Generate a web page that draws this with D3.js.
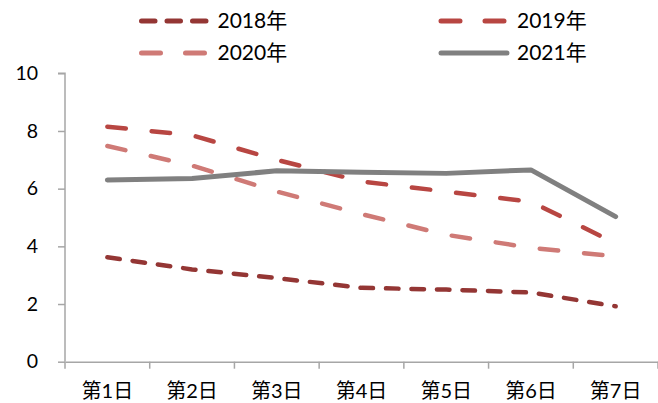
<!DOCTYPE html>
<html>
<head>
<meta charset="utf-8">
<script src="https://cdn.jsdelivr.net/npm/d3@7"></script>
<style>
  body { margin: 0; background: #fff; }
  text { font-family: "Lato", "Noto Sans CJK SC", sans-serif; fill: #000; }
</style>
</head>
<body>
<script>
// chart data
var days = ["第1日", "第2日", "第3日", "第4日", "第5日", "第6日", "第7日"];
var y2018 = [3.62, 3.2, 2.9, 2.56, 2.5, 2.4, 1.92];
var y2019 = [8.15, 7.85, 7.0, 6.25, 5.9, 5.55, 4.1];
var y2020 = [7.48, 6.8, 5.9, 5.12, 4.4, 3.95, 3.65];
var y2021 = [6.3, 6.35, 6.62, 6.57, 6.53, 6.65, 5.03];
var yTicks = [0, 2, 4, 6, 8, 10];

var svgWidth = 658;
var svgHeight = 403;
var margin = { top: 73.3, right: 0, bottom: 41.3, left: 65 };
var width = svgWidth - margin.left - margin.right;
var height = svgHeight - margin.top - margin.bottom;

var svg = d3.select("body").append("svg")
  .attr("width", svgWidth)
  .attr("height", svgHeight);

var chartGroup = svg.append("g")
  .attr("transform", `translate(${margin.left}, ${margin.top})`);

var xBand = d3.scaleBand().domain(days).range([0, width]);
var yLinearScale = d3.scaleLinear().domain([0, 10]).range([height, 0]);

// axes
var axisColor = "#a6a6a6";
var xAxis = chartGroup.append("g")
  .attr("transform", `translate(0, ${height})`)
  .call(d3.axisBottom(xBand).tickSize(0).tickPadding(22));
xAxis.select(".domain").attr("stroke", axisColor).attr("stroke-width", 1.5);
xAxis.selectAll("text").attr("font-size", "20px");
// boundary ticks between categories
xAxis.selectAll(".bound")
  .data(d3.range(days.length + 1))
  .enter()
  .append("line")
  .attr("x1", i => i * xBand.step())
  .attr("x2", i => i * xBand.step())
  .attr("y1", 0)
  .attr("y2", 7)
  .attr("stroke", axisColor)
  .attr("stroke-width", 1.5);

var yAxis = chartGroup.append("g")
  .call(d3.axisLeft(yLinearScale).tickValues(yTicks).tickSize(7).tickPadding(20));
yAxis.select(".domain").attr("stroke", axisColor).attr("stroke-width", 1.5)
  .attr("d", `M-7,0H0V${height}`);
yAxis.selectAll(".tick line").attr("stroke", axisColor).attr("stroke-width", 1.5);
yAxis.selectAll("text").attr("font-size", "19.5px");

// series
var series = [
  { name: "2018年", values: y2018, color: "#943634", dash: "12.5,13", legendDash: "13.5,12", w: 4.5 },
  { name: "2019年", values: y2019, color: "#b84642", dash: "18.5,26", legendDash: "19,25", w: 4.5 },
  { name: "2020年", values: y2020, color: "#cf7a76", dash: "18.5,26", legendDash: "19,25", w: 4.5 },
  { name: "2021年", values: y2021, color: "#808080", dash: null, legendDash: null, w: 5 }
];

var line = d3.line()
  .x((d, i) => xBand(days[i]) + xBand.bandwidth() / 2)
  .y(d => yLinearScale(d));

series.forEach(function(s) {
  chartGroup.append("path")
    .datum(s.values)
    .attr("d", line)
    .attr("fill", "none")
    .attr("stroke", s.color)
    .attr("stroke-width", s.w)
    .attr("stroke-linecap", "round")
    .attr("stroke-linejoin", "round")
    .attr("stroke-dasharray", s.dash);
});

// legend
var legendPos = [
  { x: 141.5, y: 21 },
  { x: 441, y: 21 },
  { x: 141.5, y: 53 },
  { x: 441, y: 53 }
];
series.forEach(function(s, i) {
  var p = legendPos[i];
  var g = svg.append("g").attr("transform", `translate(${p.x}, ${p.y})`);
  g.append("line")
    .attr("x1", 0).attr("x2", 66).attr("y1", 0).attr("y2", 0)
    .attr("stroke", s.color)
    .attr("stroke-width", 5)
    .attr("stroke-linecap", "round")
    .attr("stroke-dasharray", s.legendDash);
  g.append("text")
    .attr("x", 76)
    .attr("dy", "0.35em")
    .attr("font-size", "21px")
    .text(s.name);
});
</script>
</body>
</html>
